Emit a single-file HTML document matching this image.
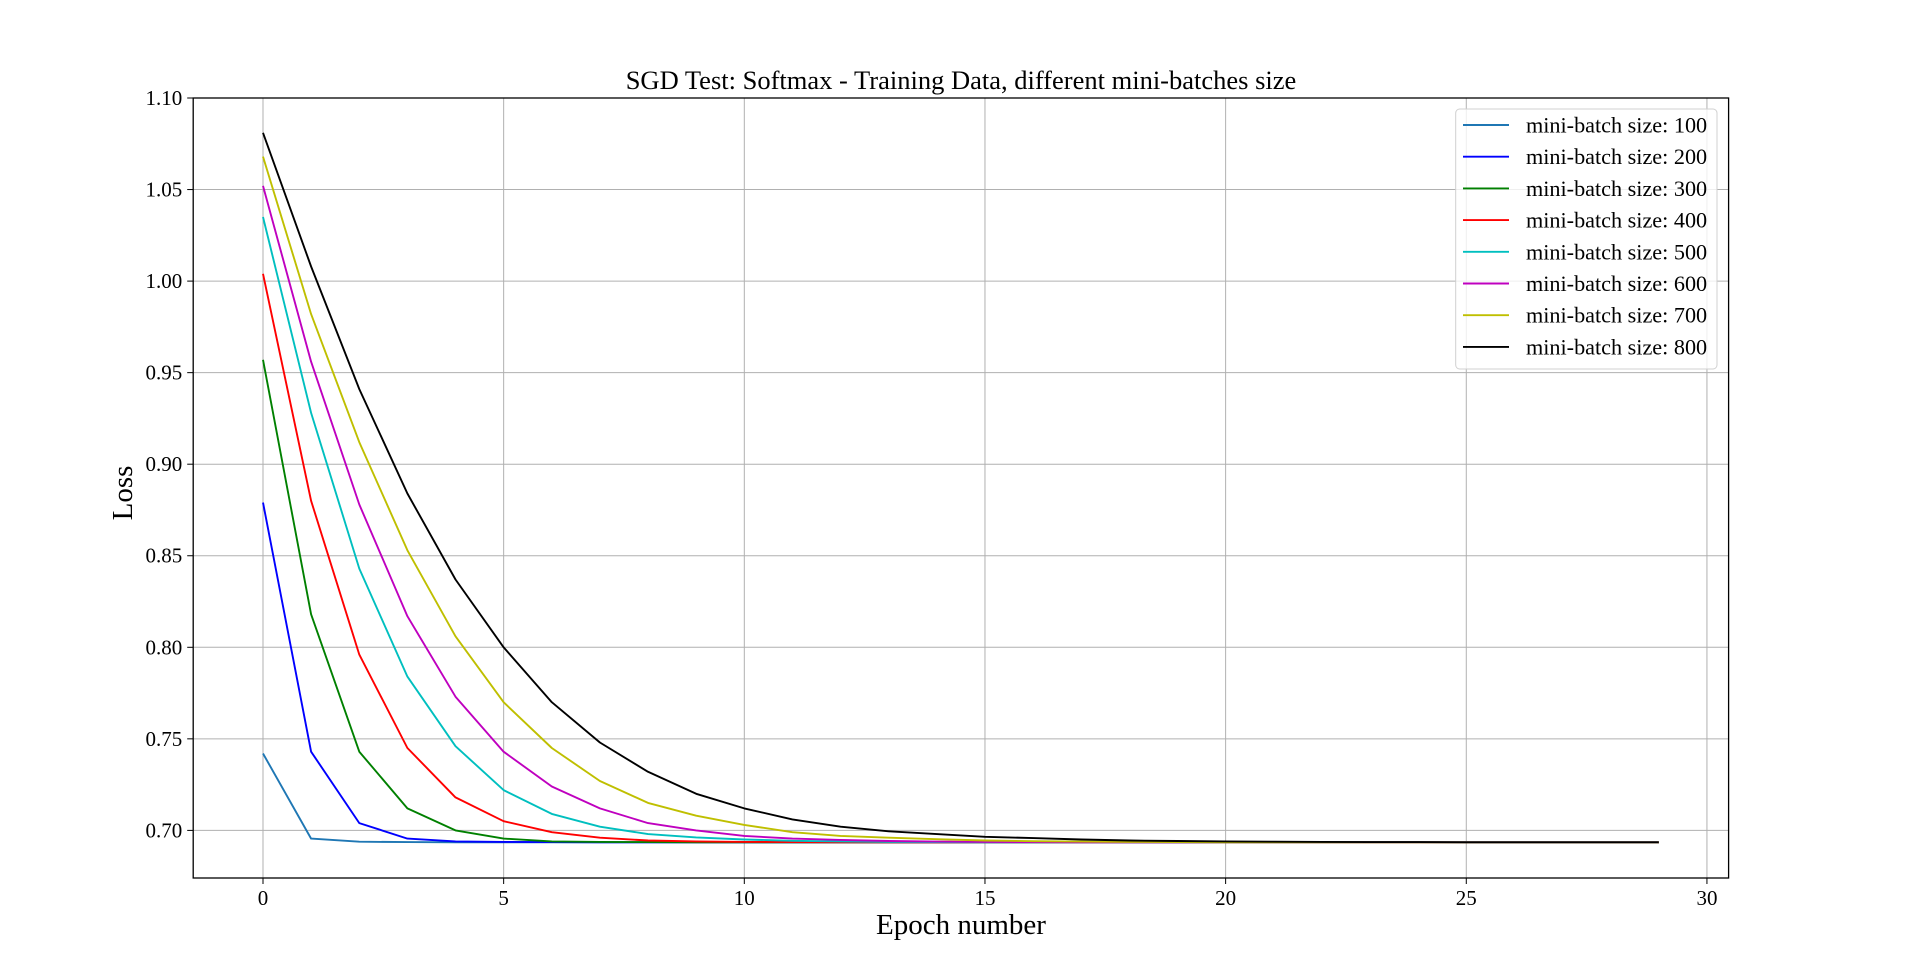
<!DOCTYPE html>
<html><head><meta charset="utf-8"><style>
html,body{margin:0;padding:0;background:#fff;}
svg{display:block;font-family:"Liberation Serif",serif;}
</style></head><body>
<svg id="chart" width="1920" height="975" viewBox="0 0 1920 975" xmlns="http://www.w3.org/2000/svg">
<rect width="1920" height="975" fill="#fff"/>
<g id="grid"></g>
<g id="series"></g>
<rect x="193.2" y="98" width="1535.4" height="780" fill="none" stroke="#000" stroke-width="1.3"/>
<g id="ticks"></g>
<text x="961" y="89" font-size="26.5" text-anchor="middle">SGD Test: Softmax - Training Data, different mini-batches size</text>
<text x="961" y="934" font-size="29" text-anchor="middle">Epoch number</text>
<text x="0" y="0" font-size="29" text-anchor="middle" transform="translate(132,493) rotate(-90)">Loss</text>
<g id="legend"></g>
</svg>
<script>
const epochs = [0,1,2,3,4,5,6,7,8,9,10,11,12,13,14,15,16,17,18,19,20,21,22,23,24,25,26,27,28,29];
const seriesLabels = ["mini-batch size: 100","mini-batch size: 200","mini-batch size: 300","mini-batch size: 400","mini-batch size: 500","mini-batch size: 600","mini-batch size: 700","mini-batch size: 800"];
const s100 = [0.742,0.6955,0.6938,0.6936,0.6935,0.6935,0.6935,0.6935,0.6935,0.6935,0.6935,0.6935,0.6935,0.6935,0.6935,0.6935,0.6935,0.6935,0.6935,0.6935,0.6935,0.6935,0.6935,0.6935,0.6935,0.6935,0.6935,0.6935,0.6935,0.6935];
const s200 = [0.879,0.743,0.704,0.6955,0.694,0.6937,0.6936,0.6935,0.6935,0.6935,0.6935,0.6935,0.6935,0.6935,0.6935,0.6935,0.6935,0.6935,0.6935,0.6935,0.6935,0.6935,0.6935,0.6935,0.6935,0.6935,0.6935,0.6935,0.6935,0.6935];
const s300 = [0.957,0.818,0.743,0.712,0.700,0.6955,0.694,0.6937,0.6936,0.6935,0.6935,0.6935,0.6935,0.6935,0.6935,0.6935,0.6935,0.6935,0.6935,0.6935,0.6935,0.6935,0.6935,0.6935,0.6935,0.6935,0.6935,0.6935,0.6935,0.6935];
const s400 = [1.004,0.880,0.796,0.745,0.718,0.705,0.699,0.696,0.6945,0.694,0.6937,0.6936,0.6935,0.6935,0.6935,0.6935,0.6935,0.6935,0.6935,0.6935,0.6935,0.6935,0.6935,0.6935,0.6935,0.6935,0.6935,0.6935,0.6935,0.6935];
const s500 = [1.035,0.928,0.843,0.784,0.746,0.722,0.709,0.702,0.698,0.6962,0.695,0.6943,0.694,0.6937,0.6936,0.6935,0.6935,0.6935,0.6935,0.6935,0.6935,0.6935,0.6935,0.6935,0.6935,0.6935,0.6935,0.6935,0.6935,0.6935];
const s600 = [1.052,0.956,0.878,0.817,0.773,0.743,0.724,0.712,0.704,0.700,0.697,0.6955,0.6948,0.6942,0.6939,0.6937,0.6936,0.6935,0.6935,0.6935,0.6935,0.6935,0.6935,0.6935,0.6935,0.6935,0.6935,0.6935,0.6935,0.6935];
const s700 = [1.068,0.982,0.912,0.853,0.806,0.770,0.745,0.727,0.715,0.708,0.703,0.699,0.697,0.696,0.6952,0.6945,0.6941,0.6939,0.6937,0.6936,0.6935,0.6935,0.6935,0.6935,0.6935,0.6935,0.6935,0.6935,0.6935,0.6935];
const s800 = [1.081,1.008,0.941,0.884,0.837,0.800,0.770,0.748,0.732,0.720,0.712,0.706,0.702,0.6995,0.698,0.6965,0.6958,0.695,0.6945,0.6942,0.694,0.6938,0.6937,0.6936,0.6936,0.6935,0.6935,0.6935,0.6935,0.6935];
const seriesColors = ["#1f77b4","#0000ff","#008000","#ff0000","#00bfbf","#bf00bf","#bfbf00","#000000"];
const xTicks = [0,5,10,15,20,25,30];
const yTicks = [0.70,0.75,0.80,0.85,0.90,0.95,1.00,1.05,1.10];
const allSeries = [s100,s200,s300,s400,s500,s600,s700,s800];

const NS="http://www.w3.org/2000/svg";
const L=193.2,R=1728.6,T=98,B=878;
const xMin=-1.45,xMax=30.45,yMin=0.674,yMax=1.10;
function xs(v){return L+(v-xMin)/(xMax-xMin)*(R-L);}
function ys(v){return B-(v-yMin)/(yMax-yMin)*(B-T);}
function mk(tag,attrs,parent){const e=document.createElementNS(NS,tag);for(const k in attrs)e.setAttribute(k,attrs[k]);parent.appendChild(e);return e;}
const grid=document.getElementById('grid'),ticks=document.getElementById('ticks'),ser=document.getElementById('series'),leg=document.getElementById('legend');
xTicks.forEach(t=>{
  const x=xs(t);
  const g=mk('line',{x1:x,x2:x,y1:T,y2:B,stroke:'#b0b0b0','stroke-width':1},grid);
  
  
  const tk=mk('line',{x1:x,x2:x,y1:B,y2:B+6,stroke:'#000','stroke-width':1},ticks);
  
  
  const tx=mk('text',{x:x,y:B+27,'font-size':21,'text-anchor':'middle'},ticks);
  
  
  tx.textContent=String(t);
});
yTicks.forEach(t=>{
  const y=ys(t);
  const g=mk('line',{x1:L,x2:R,y1:y,y2:y,stroke:'#b0b0b0','stroke-width':1},grid);
  
  
  const tk=mk('line',{x1:L-6,x2:L,y1:y,y2:y,stroke:'#000','stroke-width':1},ticks);
  
  
  const tx=mk('text',{x:L-11,y:y+7,'font-size':21,'text-anchor':'end'},ticks);
  
  
  tx.textContent=t.toFixed(2);
});
allSeries.forEach((s,i)=>{
  const pts=s.map((v,j)=>xs(epochs[j]).toFixed(1)+','+ys(v).toFixed(1)).join(' ');
  const p=mk('polyline',{points:pts,fill:'none',stroke:seriesColors[i],'stroke-width':1.9,'stroke-linejoin':'round'},ser);
  
  
});
const box=mk('rect',{x:1455.7,y:109,width:261.3,height:260,rx:4,fill:'#fff','fill-opacity':0.8,stroke:'#d0d0d0','stroke-width':1},leg);


seriesLabels.forEach((lab,i)=>{
  const y=125+i*31.7;
  const ln=mk('line',{x1:1463,x2:1509,y1:y,y2:y,stroke:seriesColors[i],'stroke-width':1.9},leg);
  
  
  const tx=mk('text',{x:1526,y:y+7.5,'font-size':22.2},leg);
  
  
  tx.textContent=lab;
});
</script>
</body></html>
